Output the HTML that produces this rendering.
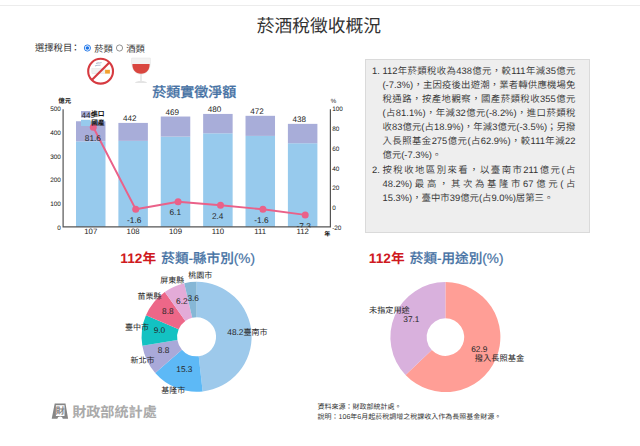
<!DOCTYPE html>
<html lang="zh-Hant">
<head>
<meta charset="utf-8">
<title>菸酒稅徵收概況</title>
<style>
html,body{margin:0;padding:0;background:#fff;}
body{width:640px;height:446px;position:relative;overflow:hidden;font-family:"Liberation Sans","Noto Sans CJK TC",sans-serif;color:#333;text-rendering:geometricPrecision;}
.abs{position:absolute;white-space:nowrap;}
#topline{position:absolute;left:0;top:5px;width:640px;height:1px;background:#ececec;}
#title{left:-1.200px;width:640px;top:14.300px;text-align:center;font-size:17.750px;line-height:24px;color:#333;}
#sel{left:35px;top:41.300px;font-size:9.300px;line-height:14px;color:#333;}
#panel{position:absolute;left:365px;top:58.600px;width:225px;height:174.200px;background:#eeeeee;border:1px solid #dadada;box-sizing:border-box;}
#panel ol{margin:0;padding:4.300px 13.600px 0 16.500px;font-weight:350;font-size:9.380px;line-height:14px;text-align:justify;color:#333;}
#panel li+li{margin-top:1.300px;}
#foot{left:317.600px;top:402.800px;font-size:7px;line-height:9.900px;color:#333;}
#logo{left:72.200px;top:402.300px;font-size:14.100px;line-height:20px;font-weight:bold;color:#aaa;}
svg{position:absolute;left:0;top:0;}
svg text{font-family:"Liberation Sans","Noto Sans CJK TC",sans-serif;text-rendering:geometricPrecision;}
</style>
</head>
<body>
<div id="topline"></div>
<div id="title" class="abs">菸酒稅徵收概況</div>
<div id="sel" class="abs">選擇稅目<span style="position:relative;left:-1.400px">：</span></div>
<div id="panel"><ol>
<li>112年菸類稅收為438億元，較111年減35億元(-7.3%)，主因疫後出遊潮，業者轉供應機場免稅通路，按產地觀察，國產菸類稅收355億元(占81.1%)，年減32億元(-8.2%)，進口菸類稅收83億元(占18.9%)，年減3億元(-3.5%)；另撥入長照基金275億元(占62.9%)，較111年減22億元(-7.3%)。</li>
<li>按稅收地區別來看，以臺南市211億元(占48.2%)最高，其次為基隆市67億元(占15.3%)，臺中市39億元(占9.0%)居第三。</li>
</ol></div>
<div id="foot" class="abs">資料來源：財政部統計處。<br>說明：106年6月起菸稅調增之稅課收入作為長照基金財源。</div>
<div id="logo" class="abs">財政部統計處</div>
<svg width="640" height="446" viewBox="0 0 640 446">
<rect x="76.00" y="141.35" width="29.5" height="85.55" fill="#97caed"/>
<rect x="76.00" y="121.26" width="29.5" height="20.09" fill="#a8add9"/>
<rect x="118.38" y="140.88" width="29.5" height="86.02" fill="#97caed"/>
<rect x="118.38" y="122.91" width="29.5" height="17.97" fill="#a8add9"/>
<rect x="160.76" y="136.62" width="29.5" height="90.28" fill="#97caed"/>
<rect x="160.76" y="116.53" width="29.5" height="20.09" fill="#a8add9"/>
<rect x="203.14" y="133.31" width="29.5" height="93.59" fill="#97caed"/>
<rect x="203.14" y="113.93" width="29.5" height="19.38" fill="#a8add9"/>
<rect x="245.52" y="135.91" width="29.5" height="90.99" fill="#97caed"/>
<rect x="245.52" y="115.82" width="29.5" height="20.09" fill="#a8add9"/>
<rect x="287.90" y="143.24" width="29.5" height="83.66" fill="#97caed"/>
<rect x="287.90" y="123.86" width="29.5" height="19.38" fill="#a8add9"/>
<path d="M63.1 109.2V226.9H330.4V109.2" fill="none" stroke="#555555" stroke-width="1.200"/>
<text x="60.9" y="229.6" font-size="6.400" text-anchor="end" fill="#151515">0</text>
<text x="60.9" y="206.0" font-size="6.400" text-anchor="end" fill="#151515">100</text>
<text x="60.9" y="182.3" font-size="6.400" text-anchor="end" fill="#151515">200</text>
<text x="60.9" y="158.7" font-size="6.400" text-anchor="end" fill="#151515">300</text>
<text x="60.9" y="135.0" font-size="6.400" text-anchor="end" fill="#151515">400</text>
<text x="60.9" y="111.4" font-size="6.400" text-anchor="end" fill="#151515">500</text>
<text x="332.2" y="229.6" font-size="6.400" fill="#151515">-20</text>
<text x="332.2" y="209.9" font-size="6.400" fill="#151515">0</text>
<text x="332.2" y="190.2" font-size="6.400" fill="#151515">20</text>
<text x="332.2" y="170.5" font-size="6.400" fill="#151515">40</text>
<text x="332.2" y="150.8" font-size="6.400" fill="#151515">60</text>
<text x="332.2" y="131.1" font-size="6.400" fill="#151515">80</text>
<text x="332.2" y="111.4" font-size="6.400" fill="#151515">100</text>
<text x="90.8" y="234.300" font-size="7.800" text-anchor="middle" fill="#262626">107</text>
<text x="133.1" y="234.300" font-size="7.800" text-anchor="middle" fill="#262626">108</text>
<text x="175.5" y="234.300" font-size="7.800" text-anchor="middle" fill="#262626">109</text>
<text x="217.9" y="234.300" font-size="7.800" text-anchor="middle" fill="#262626">110</text>
<text x="260.3" y="234.300" font-size="7.800" text-anchor="middle" fill="#262626">111</text>
<text x="302.6" y="234.300" font-size="7.800" text-anchor="middle" fill="#262626">112</text>
<text x="58.300" y="102.800" font-size="6.400" fill="#111" font-weight="bold">億元</text>
<text x="330.800" y="103.200" font-size="6.2" fill="#262626">%</text>
<text x="324.300" y="236.100" font-size="6.100" fill="#111" font-weight="bold">年</text>
<rect x="81" y="111" width="9.500" height="6.600" fill="#a8add9"/>
<rect x="81" y="119.800" width="9.500" height="6.200" fill="#97caed"/>
<text x="81.4" y="117.8" font-size="8.100" fill="#262626">449</text>
<text x="123.0" y="121.0" font-size="8.100" fill="#262626">442</text>
<text x="165.4" y="114.6" font-size="8.100" fill="#262626">469</text>
<text x="207.8" y="112.0" font-size="8.100" fill="#262626">480</text>
<text x="250.2" y="113.9" font-size="8.100" fill="#262626">472</text>
<text x="292.6" y="122.0" font-size="8.100" fill="#262626">438</text>
<polyline points="93.3,127.3 135.7,209.3 178.1,201.7 220.5,205.3 262.9,209.3 305.2,214.9" fill="none" stroke="#ea6189" stroke-width="1.900" stroke-linejoin="round"/>
<circle cx="93.3" cy="127.3" r="3.500" fill="#ea6189"/>
<circle cx="135.7" cy="209.3" r="3.500" fill="#ea6189"/>
<circle cx="178.1" cy="201.7" r="3.500" fill="#ea6189"/>
<circle cx="220.5" cy="205.3" r="3.500" fill="#ea6189"/>
<circle cx="262.9" cy="209.3" r="3.500" fill="#ea6189"/>
<circle cx="305.2" cy="214.9" r="3.500" fill="#ea6189"/>
<text x="91.200" y="116.200" font-size="6.700" fill="#111" font-weight="bold">進口</text>
<text x="91.200" y="124.600" font-size="6.700" fill="#111" font-weight="bold">國產</text>
<clipPath id="plotclip"><rect x="60" y="100" width="275" height="127.400"/></clipPath>
<g clip-path="url(#plotclip)">
<text x="84.8" y="141.0" font-size="8.300" fill="#262626">81.6</text>
<text x="127.1" y="223.0" font-size="8.300" fill="#262626">-1.6</text>
<text x="169.5" y="215.4" font-size="8.300" fill="#262626">6.1</text>
<text x="211.9" y="219.0" font-size="8.300" fill="#262626">2.4</text>
<text x="254.3" y="223.0" font-size="8.300" fill="#262626">-1.6</text>
<text x="296.6" y="228.6" font-size="8.300" fill="#262626">-7.3</text>
</g>
<text x="194.300" y="96.500" font-size="14" font-weight="500" text-anchor="middle" fill="#4672a4" stroke="#4672a4" stroke-width="0.25">菸類實徵淨額</text>
<path d="M196.60 281.80A55 55 0 0 1 202.64 391.47L198.74 356.18A19.5 19.5 0 0 0 196.60 317.30Z" fill="#9dc9eb"/>
<path d="M202.64 391.47A55 55 0 0 1 155.20 373.01L181.92 349.64A19.5 19.5 0 0 0 198.74 356.18Z" fill="#5db9f6"/>
<path d="M155.20 373.01A55 55 0 0 1 142.35 345.84L177.37 340.00A19.5 19.5 0 0 0 181.92 349.64Z" fill="#a9a9d9"/>
<path d="M142.35 345.84A55 55 0 0 1 145.96 315.33L178.65 329.19A19.5 19.5 0 0 0 177.37 340.00Z" fill="#13c2c2"/>
<path d="M145.96 315.33A55 55 0 0 1 164.81 291.92L185.33 320.89A19.5 19.5 0 0 0 178.65 329.19Z" fill="#ed6788"/>
<path d="M164.81 291.92A55 55 0 0 1 184.25 283.20L192.22 317.80A19.5 19.5 0 0 0 185.33 320.89Z" fill="#e3abd8"/>
<path d="M184.25 283.20A55 55 0 0 1 196.60 281.80L196.60 317.30A19.5 19.5 0 0 0 192.22 317.80Z" fill="#86b7d6"/>
<text x="227.3" y="335.2" font-size="8.300" fill="#262626">48.2</text>
<text x="176.3" y="372.2" font-size="8.300" fill="#262626">15.3</text>
<text x="157.8" y="353" font-size="8.300" fill="#262626">8.8</text>
<text x="153.7" y="333.1" font-size="8.300" fill="#262626">9.0</text>
<text x="162.1" y="314.1" font-size="8.300" fill="#262626">8.8</text>
<text x="176.1" y="303.8" font-size="8.300" fill="#262626">6.2</text>
<text x="187.4" y="300.5" font-size="8.300" fill="#262626">3.6</text>
<text x="243.4" y="334.6" font-size="8" fill="#262626">臺南市</text>
<text x="161.2" y="393.4" font-size="8" fill="#262626">基隆市</text>
<text x="130.5" y="363.2" font-size="8" fill="#262626">新北市</text>
<text x="125.1" y="329.7" font-size="8" fill="#262626">臺中市</text>
<text x="137.6" y="299.4" font-size="8" fill="#262626">苗栗縣</text>
<text x="160.3" y="282.7" font-size="8" fill="#262626">屏東縣</text>
<text x="188.2" y="278.4" font-size="8" fill="#262626">桃園市</text>
<path d="M445.40 282.10A55 55 0 1 1 405.54 375.00L431.78 350.06A18.8 18.8 0 1 0 445.40 318.30Z" fill="#ff9e96"/>
<path d="M405.54 375.00A55 55 0 0 1 445.40 282.10L445.40 318.30A18.8 18.8 0 0 0 431.78 350.06Z" fill="#d9b1dd"/>
<text x="471.200" y="351.600" font-size="8.300" fill="#262626">62.9</text>
<text x="474.700" y="360.500" font-size="8.250" fill="#262626">撥入長照基金</text>
<text x="403.300" y="322" font-size="8.300" fill="#262626">37.1</text>
<text x="369" y="313" font-size="8.150" fill="#262626">未指定用途</text>
<text x="120.3" y="263" font-size="13.700" font-weight="bold" fill="#cf1a1f">112年</text>
<text x="161.3" y="263" font-size="13.600" font-weight="500" fill="#4672a4" stroke="#4672a4" stroke-width="0.2">菸類-縣市別(%)</text>
<text x="368.8" y="263" font-size="13.700" font-weight="bold" fill="#cf1a1f">112年</text>
<text x="409.8" y="263" font-size="13.600" font-weight="500" fill="#4672a4" stroke="#4672a4" stroke-width="0.2">菸類-用途別(%)</text>
<circle cx="87.400" cy="48" r="3.100" fill="#fff" stroke="#1a73e8" stroke-width="0.900"/><circle cx="87.400" cy="48" r="1.800" fill="#1a73e8"/>
<text x="94.200" y="51.800" font-size="9.300" fill="#333">菸類</text>
<circle cx="119.500" cy="48" r="3.100" fill="#fff" stroke="#777" stroke-width="0.800"/>
<text x="126.200" y="51.800" font-size="9.300" fill="#333">酒類</text>
<g transform="translate(100.6,71.2)"><circle r="12.400" fill="#fff" stroke="#d63a40" stroke-width="2.100"/><rect x="-8.700" y="-2.400" width="13.200" height="4.800" fill="#f1f1f1" stroke="#d9d9d9" stroke-width="0.400"/><rect x="4.500" y="-1.400" width="4.800" height="3.800" fill="#f2a12e"/><path d="M-5.500 -5c1.500-1.800 3.500-.3 5.500-1.200M-4.500 -7.600c1.800-1.500 3.500 0 5.500-1" fill="none" stroke="#b5bfd0" stroke-width="1.100"/><path d="M8.800 -8.800L-8.800 8.800" stroke="#d63a40" stroke-width="2.100"/></g>
<g transform="translate(141,70)"><path d="M-9.300 -12h18.600c1.200 9.500 -2.500 16.200 -9.300 16.200s-10.500 -6.700 -9.300 -16.200z" fill="#f2f2f2" stroke="#e3e3e3" stroke-width="0.500"/><path d="M-8.600 -6h17.200c.2 6 -3.200 9.700 -8.600 9.700s-8.800 -3.700 -8.600 -9.700z" fill="#d9463f"/><rect x="-0.700" y="4" width="1.400" height="8" fill="#e2e2e2"/><path d="M-6 13c.3-1.300 3-1.900 6-1.900s5.700 .6 6 1.900z" fill="#e4e4e4"/></g>
<g><path d="M54.700 403.500h10.800l2.600 15.300h-5.300c-.3-1.600-1.200-2.300-2.700-2.300s-2.400 .7-2.700 2.300h-5.700z" fill="#868686"/><rect x="55.900" y="405.200" width="8.600" height="10.800" fill="#fff"/><text x="60.200" y="414.400" font-size="9.200" font-weight="bold" text-anchor="middle" fill="#868686">財</text></g>
</svg>
</body>
</html>
